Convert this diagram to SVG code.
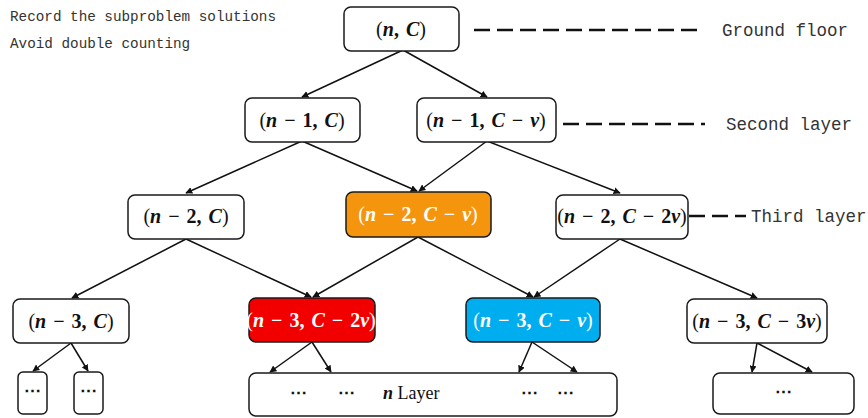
<svg xmlns="http://www.w3.org/2000/svg" width="868" height="418" viewBox="0 0 868 418">
<style>
.box{fill:#fff;stroke:#1a1a1a;stroke-width:1.5}
.org{fill:#F5950E}
.red{fill:#F20000}
.blu{fill:#00AEEF}
.lbl{font-family:"Liberation Serif","DejaVu Serif",serif;font-size:20px;font-weight:bold;text-anchor:middle;fill:#111;word-spacing:2px}
.wt{fill:#fff}
.v{font-style:italic}
.p{font-weight:normal}
.note{font-family:"Liberation Mono","DejaVu Sans Mono",monospace;font-size:14.3px;fill:#333}
.side{font-family:"Liberation Mono","DejaVu Sans Mono",monospace;font-size:17.5px;fill:#333}
.dash{stroke:#111;stroke-width:2.5;stroke-dasharray:16 7;fill:none}
.dots{font-family:"Liberation Serif","DejaVu Serif",serif;font-size:17px;font-weight:bold;text-anchor:middle;fill:#111}
.lay{font-family:"Liberation Serif","DejaVu Serif",serif;font-size:18px;fill:#111}
.conn line{stroke:#111;stroke-width:1.5}
</style>
<defs>
<marker id="ah" viewBox="0 0 10 10" refX="9" refY="5" markerWidth="7" markerHeight="7" orient="auto" markerUnits="userSpaceOnUse">
<path d="M0,0 L10,5 L0,10 z" fill="#111"/>
</marker>
</defs>
<rect width="868" height="418" fill="#fff"/>
<text class="note" x="10" y="21">Record the subproblem solutions</text>
<text class="note" x="10" y="48">Avoid double counting</text>

<g id="layers">
<line class="dash" x1="474" y1="30" x2="700" y2="30"/>
<text class="side" x="722" y="36">Ground floor</text>
<line class="dash" x1="563" y1="124" x2="705" y2="124"/>
<text class="side" x="726" y="130">Second layer</text>
<line class="dash" x1="689" y1="216" x2="746" y2="216" stroke-dasharray="12 6 12 6 4 20"/>
<text class="side" x="751" y="222">Third layer</text>
</g>

<g class="conn" id="connectors">
<line x1="403" y1="50" x2="302" y2="97" marker-end="url(#ah)"/>
<line x1="403" y1="50" x2="487" y2="97" marker-end="url(#ah)"/>
<line x1="302" y1="141" x2="186" y2="193" marker-end="url(#ah)"/>
<line x1="302" y1="141" x2="417" y2="191" marker-end="url(#ah)"/>
<line x1="487" y1="141" x2="419" y2="191" marker-end="url(#ah)"/>
<line x1="487" y1="141" x2="620" y2="193" marker-end="url(#ah)"/>
<line x1="186" y1="239" x2="72" y2="298" marker-end="url(#ah)"/>
<line x1="186" y1="239" x2="311" y2="297" marker-end="url(#ah)"/>
<line x1="418" y1="237" x2="313" y2="297" marker-end="url(#ah)"/>
<line x1="418" y1="237" x2="533" y2="297" marker-end="url(#ah)"/>
<line x1="620" y1="239" x2="534" y2="297" marker-end="url(#ah)"/>
<line x1="620" y1="239" x2="757" y2="298" marker-end="url(#ah)"/>
<line x1="71" y1="343" x2="33" y2="371" marker-end="url(#ah)"/>
<line x1="71" y1="343" x2="88" y2="371" marker-end="url(#ah)"/>
<line x1="312" y1="342" x2="270" y2="372" marker-end="url(#ah)"/>
<line x1="312" y1="342" x2="331" y2="372" marker-end="url(#ah)"/>
<line x1="532" y1="342" x2="519" y2="372" marker-end="url(#ah)"/>
<line x1="532" y1="342" x2="577" y2="372" marker-end="url(#ah)"/>
<line x1="757" y1="343" x2="752" y2="372" marker-end="url(#ah)"/>
<line x1="757" y1="343" x2="812" y2="372" marker-end="url(#ah)"/>
</g>

<g id="n0">
<rect class="box" x="344" y="7" width="115" height="44" rx="7"/>
<text class="lbl" x="401" y="36"><tspan class="p">(</tspan><tspan class="v">n</tspan>, <tspan class="v">C</tspan><tspan class="p">)</tspan></text>
</g>
<g id="n1a">
<rect class="box" x="245" y="98" width="115" height="44" rx="7"/>
<text class="lbl" x="302" y="127"><tspan class="p">(</tspan><tspan class="v">n</tspan> − 1, <tspan class="v">C</tspan><tspan class="p">)</tspan></text>
</g>
<g id="n1b">
<rect class="box" x="417" y="98" width="139" height="44" rx="7"/>
<text class="lbl" x="486" y="127"><tspan class="p">(</tspan><tspan class="v">n</tspan> − 1, <tspan class="v">C</tspan> − <tspan class="v">v</tspan><tspan class="p">)</tspan></text>
</g>
<g id="n2a">
<rect class="box" x="128" y="195" width="116" height="44" rx="7"/>
<text class="lbl" x="186" y="223"><tspan class="p">(</tspan><tspan class="v">n</tspan> − 2, <tspan class="v">C</tspan><tspan class="p">)</tspan></text>
</g>
<g id="n2b">
<rect class="box org" x="346" y="192" width="145" height="45" rx="7"/>
<text class="lbl wt" x="418" y="221"><tspan class="p">(</tspan><tspan class="v">n</tspan> − 2, <tspan class="v">C</tspan> − <tspan class="v">v</tspan><tspan class="p">)</tspan></text>
</g>
<g id="n2c">
<rect class="box" x="556" y="195" width="132" height="44" rx="7"/>
<text class="lbl" x="622" y="223"><tspan class="p">(</tspan><tspan class="v">n</tspan> − 2, <tspan class="v">C</tspan> − 2<tspan class="v">v</tspan><tspan class="p">)</tspan></text>
</g>
<g id="n3a">
<rect class="box" x="13" y="299" width="116" height="44" rx="7"/>
<text class="lbl" x="71" y="328"><tspan class="p">(</tspan><tspan class="v">n</tspan> − 3, <tspan class="v">C</tspan><tspan class="p">)</tspan></text>
</g>
<g id="n3b">
<rect class="box red" x="249" y="298" width="126" height="44" rx="7"/>
<text class="lbl wt" x="311" y="327"><tspan class="p">(</tspan><tspan class="v">n</tspan> − 3, <tspan class="v">C</tspan> − 2<tspan class="v">v</tspan><tspan class="p">)</tspan></text>
</g>
<g id="n3c">
<rect class="box blu" x="466" y="298" width="134" height="44" rx="7"/>
<text class="lbl wt" x="533" y="327"><tspan class="p">(</tspan><tspan class="v">n</tspan> − 3, <tspan class="v">C</tspan> − <tspan class="v">v</tspan><tspan class="p">)</tspan></text>
</g>
<g id="n3d">
<rect class="box" x="687" y="299" width="140" height="44" rx="7"/>
<text class="lbl" x="757" y="328"><tspan class="p">(</tspan><tspan class="v">n</tspan> − 3, <tspan class="v">C</tspan> − 3<tspan class="v">v</tspan><tspan class="p">)</tspan></text>
</g>
<g id="b1">
<rect class="box" x="18" y="372" width="29" height="42" rx="5"/>
<text class="dots" x="32.5" y="396">⋯</text>
</g>
<g id="b2">
<rect class="box" x="74" y="372" width="29" height="42" rx="5"/>
<text class="dots" x="88.5" y="396">⋯</text>
</g>
<g id="b3">
<rect class="box" x="249" y="373" width="368" height="43" rx="7"/>
<text class="dots" x="298" y="398">⋯</text>
<text class="dots" x="346" y="398">⋯</text>
<text class="lay" x="383" y="399"><tspan class="v" font-weight="bold">n</tspan> Layer</text>
<text class="dots" x="529" y="398">⋯</text>
<text class="dots" x="565" y="398">⋯</text>
</g>
<g id="b4">
<rect class="box" x="713" y="373" width="141" height="41" rx="7"/>
<text class="dots" x="783" y="397">⋯</text>
</g>
</svg>
